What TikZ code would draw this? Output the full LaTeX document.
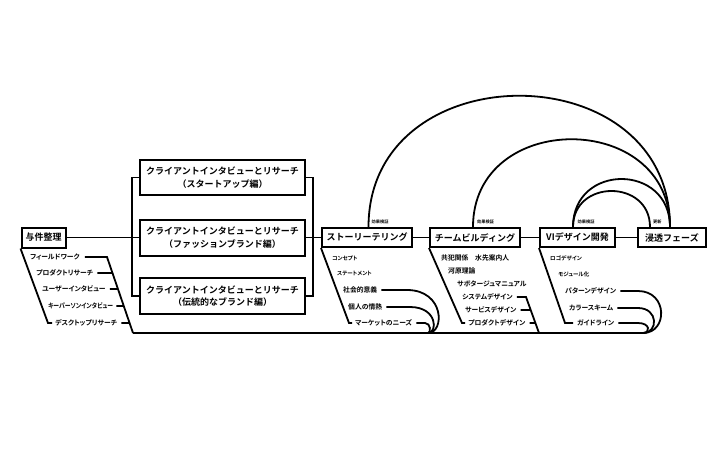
\documentclass[tikz,border=0pt]{standalone}
\usepackage{fontspec}
\usetikzlibrary{calc}
\newfontfamily\jpfont{Noto Sans CJK JP Bold}
\newfontfamily\jppfont{Noto Sans CJK JP Bold}[RawFeature=+palt]
\begin{document}
\begin{tikzpicture}[x=1pt,y=-1pt,
  box/.style={draw,line width=2pt,inner sep=0pt,align=center,
    font=\jpfont\fontsize{9}{12.5}\selectfont},
  item/.style={inner sep=0pt,anchor=west,font=\jppfont\fontsize{6.8}{7}\selectfont},
  smallitem/.style={item,font=\jppfont\fontsize{5.5}{6}\selectfont},
  lbl/.style={inner sep=0pt,anchor=south west,font=\jpfont\fontsize{4.2}{4.2}\selectfont},
  ln/.style={line width=1.8pt,line join=miter},
]
\useasboundingbox[fill=white] (0,0) rectangle (720,460);

% main boxes
\node[box,minimum width=44pt,minimum height=20pt] (yk) at (43.5,237.5) {与件整理};
\node[box,minimum width=165pt,minimum height=35pt] (cA) at (222.5,177.5) {クライアントインタビューとリサーチ\\（スタートアップ編）};
\node[box,minimum width=165pt,minimum height=36pt] (cB) at (222.5,237.5) {クライアントインタビューとリサーチ\\（ファッションブランド編）};
\node[box,minimum width=165pt,minimum height=36pt] (cC) at (222.5,296) {クライアントインタビューとリサーチ\\（伝統的なブランド編）};
\node[box,minimum width=90pt,minimum height=19pt] (st) at (367,237.5) {ストーリーテリング};
\node[box,minimum width=90pt,minimum height=19pt] (tb) at (475,237.5) {チームビルディング};
\node[box,minimum width=75pt,minimum height=19pt] (vi) at (577.5,237.5) {VIデザイン開発};
\node[box,minimum width=68pt,minimum height=19pt] (sf) at (672,237.5) {浸透フェーズ};

% main connectors
\draw[ln] (yk.east) -- (cB.west);
\draw[ln] (cA.west) -- ++(-7,0) |- (cC.west);
\draw[ln] (cA.east) -- ++(7,0) |- (cC.east);
\draw[ln] (cB.east) -- (st.west);
\draw[ln] (st.east) -- (tb.west);
\draw[ln] (tb.east) -- (vi.west);
\draw[ln] (vi.east) -- (sf.west);

% arcs
\draw[ln] ([xshift=1.5pt]st.north) .. controls +(0,-175) and +(0,-175) .. ([xshift=-2pt]sf.north);
\draw[ln] ([xshift=-2pt]tb.north) .. controls +(0,-117) and +(0,-117) .. ([xshift=-2pt]sf.north);
\draw[ln] ([xshift=-4.5pt]vi.north) .. controls +(0,-64) and +(0,-64) .. ([xshift=-2pt]sf.north);
\draw[ln] ([xshift=-4.5pt]vi.north) .. controls +(0,-48) and +(0,-48) .. ([xshift=-22pt]sf.north);
\node[lbl] (l1) at ([xshift=4.5pt,yshift=2.5pt]st.north) {効果検証};
\node[lbl] (l2) at ([xshift=2pt,yshift=2.5pt]tb.north) {効果検証};
\node[lbl] (l3) at ([xshift=0pt,yshift=2.5pt]vi.north) {効果検証};
\node[lbl] (l4) at ([xshift=-19pt,yshift=2.5pt]sf.north) {更新};

% group 1: 与件整理
\node[item] (a1) at (30,257) {フィールドワーク};
\node[item] (a2) at (36,273) {プロダクトリサーチ};
\node[item] (a3) at (42,289) {ユーザーインタビュー};
\node[item] (a4) at (48,306) {\scalebox{0.86}[1]{キーパーソンインタビュー}};
\node[item] (a5) at (55,323) {デスクトップリサーチ};
\coordinate (aL) at (48,323);
\draw[ln] (yk.south west) -- (aL) -- ([xshift=-3pt]a5.west);
\coordinate (aR) at (107,257);
\coordinate (aB) at (133,333);
\coordinate (aR2) at ($(aR)!0.2105!(aB)$);
\coordinate (aR3) at ($(aR)!0.4211!(aB)$);
\coordinate (aR4) at ($(aR)!0.6447!(aB)$);
\coordinate (aR5) at ($(aR)!0.8684!(aB)$);
\draw[ln] ([xshift=5pt]a1.east) -- (aR) -- (aB);
\draw[ln] ([xshift=4pt]a2.east) -- (aR2);
\draw[ln] ([xshift=4pt]a3.east) -- (aR3);
\draw[ln] ([xshift=3pt]a4.east) -- (aR4);
\draw[ln] ([xshift=4pt]a5.east) -- (aR5);

% bottom line
\coordinate (vc) at (643,333);
\coordinate (bc) at (428,333);
\draw[ln] (aB) -- (vc);

% group 2: ストーリーテリング
\node[smallitem] (b1) at (332,258) {コンセプト};
\node[smallitem] (b2) at (337,274) {ステートメント};
\node[item] (b3) at (343,290) {社会的意義};
\node[item] (b4) at (348,307) {個人の情熱};
\node[item] (b5) at (355,323) {マーケットのニーズ};
\coordinate (bL) at (349,323);
\draw[ln] (st.south west) -- (bL) -- ([xshift=-3pt]b5.west);
\coordinate (bD3) at (407,290);
\coordinate (bD4) at (410,307);
\coordinate (bD5) at (425,323);
\draw[ln] ([xshift=4pt]b3.east) -- (bD3) .. controls (444.8,290) and (444.8,333) .. (bc);
\draw[ln] ([xshift=4pt]b4.east) -- (bD4) .. controls (437.7,307) and (437.7,333) .. (bc);
\draw[ln] ([xshift=4pt]b5.east) -- (bD5) .. controls (431,323) and (431,333) .. (bc);

% group 3: チームビルディング
\node[item] (t1) at (441,258) {共犯関係　水先案内人};
\node[item] (t2) at (448,271) {河原理論};
\node[item] (t3) at (457,284) {サボタージュマニュアル};
\node[item] (t4) at (462,297) {システムデザイン};
\node[item] (t5) at (465,310) {サービスデザイン};
\node[item] (t6) at (468,323) {プロダクトデザイン};
\coordinate (tL) at (462,323);
\draw[ln] (tb.south west) -- (tL) -- ([xshift=-3pt]t6.west);
\coordinate (tR) at (526,297);
\coordinate (tB) at (539,333);
\coordinate (tR5) at ($(tR)!0.3611!(tB)$);
\coordinate (tR6) at ($(tR)!0.7222!(tB)$);
\draw[ln] ([xshift=4pt]t4.east) -- (tR) -- (tB);
\draw[ln] ([xshift=4pt]t5.east) -- (tR5);
\draw[ln] ([xshift=4pt]t6.east) -- (tR6);

% group 4: VIデザイン開発
\node[smallitem] (v1) at (550,258) {ロゴデザイン};
\node[smallitem] (v2) at (558,274) {モジュール化};
\node[item] (v3) at (565,291) {パターンデザイン};
\node[item] (v4) at (569,308) {カラースキーム};
\node[item] (v5) at (577,323) {ガイドライン};
\coordinate (vL) at (565,323);
\draw[ln] (vi.south west) -- (vL) -- ([xshift=-4pt]v5.west);
\coordinate (vD3) at (638,291);
\coordinate (vD4) at (638,308);
\coordinate (vD5) at (638,323);
\draw[ln] ([xshift=4pt]v3.east) -- (vD3) .. controls (668,291) and (668,333) .. (vc);
\draw[ln] ([xshift=4pt]v4.east) -- (vD4) .. controls (658.5,308) and (658.5,333) .. (vc);
\draw[ln] ([xshift=4pt]v5.east) -- (vD5) .. controls (650.5,323) and (650.5,333) .. (vc);
\end{tikzpicture}
\end{document}
